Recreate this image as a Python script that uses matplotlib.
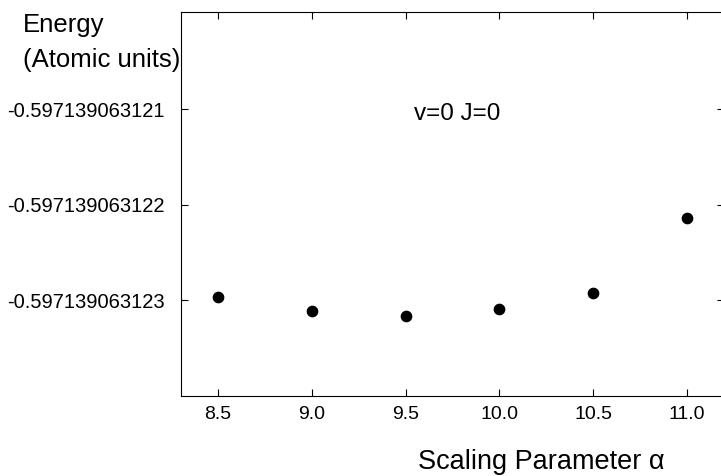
import numpy as np
import matplotlib
matplotlib.use("Agg")
import matplotlib.pyplot as plt
from matplotlib.ticker import FixedLocator, FuncFormatter

# Energy of the v=0 J=0 state vs scaling parameter alpha
alpha = [8.5, 9.0, 9.5, 10.0, 10.5, 11.0]
energy = [-0.597139063122965, -0.597139063123115, -0.597139063123168,
          -0.597139063123097, -0.597139063122924, -0.597139063122145]

x_ticks = [8.5, 9.0, 9.5, 10.0, 10.5, 11.0]
y_ticks = [-0.597139063121, -0.597139063122, -0.597139063123]

plt.rcParams["font.family"] = ["Liberation Sans", "DejaVu Sans"]

fig = plt.figure(figsize=(7.21, 4.76), dpi=100)
ax = fig.add_axes([0.2506, 0.168, 0.754, 0.806])

ax.plot(alpha, energy, "o", color="black", markersize=7.4, linestyle="none")

ax.set_xlim(8.3, 11.2)
ax.set_ylim(-0.597139063124005, -0.597139063119987)

ax.xaxis.set_major_locator(FixedLocator(x_ticks))
ax.yaxis.set_major_locator(FixedLocator(y_ticks))
ax.xaxis.set_major_formatter(FuncFormatter(lambda v, p: f"{v:.1f}"))
ax.yaxis.set_major_formatter(FuncFormatter(lambda v, p: f"{v:.12f}"))

ax.tick_params(direction="in", top=True, right=True, length=5, width=0.8)
ax.tick_params(axis="x", pad=7, labelsize=14)
ax.tick_params(axis="y", pad=11.5, labelsize=14.5)
for s in ax.spines.values():
    s.set_linewidth(0.8)

fig.text(23 / 721, 1 - 31.7 / 476, "Energy", fontsize=18.5, ha="left", va="baseline")
fig.text(23 / 721, 1 - 66.7 / 476, "(Atomic units)", fontsize=18.5, ha="left", va="baseline")
fig.text(418 / 721, 1 - 469 / 476, "Scaling Parameter α", fontsize=19.5, ha="left", va="baseline")
fig.text(414 / 721, 1 - 120 / 476, "v=0 J=0", fontsize=17.5, ha="left", va="baseline")

plt.savefig("out.png", dpi=100)
plt.close()
